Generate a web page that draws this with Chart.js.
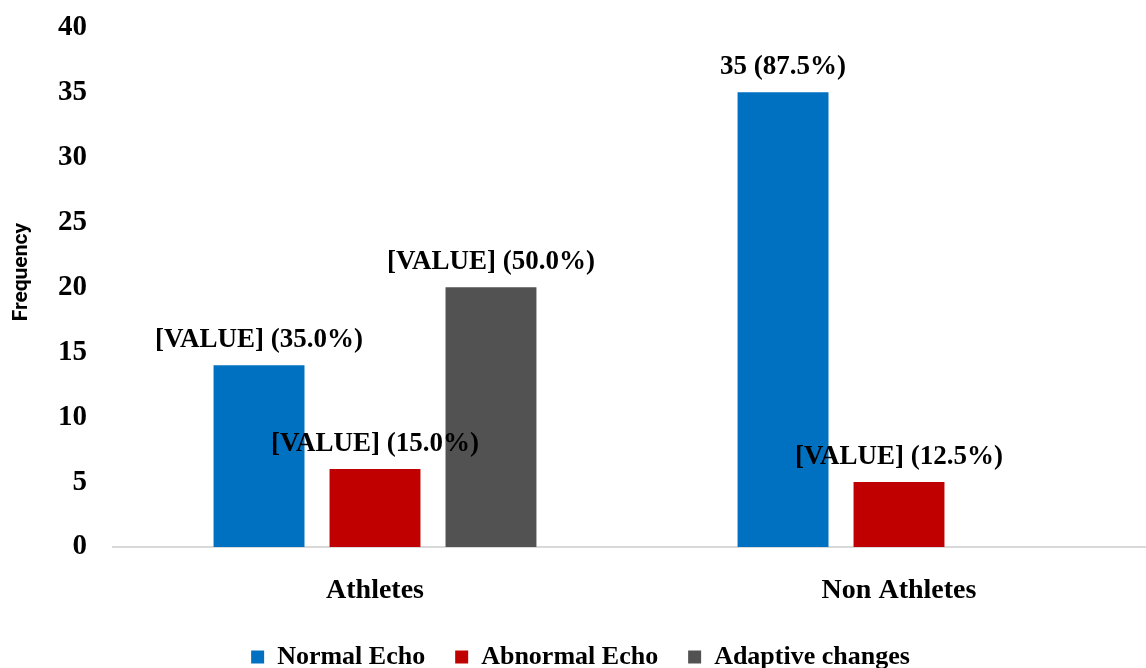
<!DOCTYPE html>
<html>
<head>
<meta charset="utf-8">
<script src="https://cdn.jsdelivr.net/npm/chart.js@4.4.0/dist/chart.umd.min.js"></script>
<style>
    html, body { margin: 0; padding: 0; background: #fff; overflow: hidden; }
    #wrap { position: relative; top: -16px; width: 1166px; height: 696px; }
</style>
</head>
<body>
<div id="wrap"><canvas id="echoChart"></canvas></div>
<script>
// chart data
const groups = ['Athletes', 'Non Athletes'];
const normalEcho = [14, 35];
const abnormalEcho = [6, 5];
const adaptiveChanges = [20, 0];

// labels shown above the bars
const normalLabels = ['[VALUE] (35.0%)', '35 (87.5%)'];
const abnormalLabels = ['[VALUE] (15.0%)', '[VALUE] (12.5%)'];
const adaptiveLabels = ['[VALUE] (50.0%)', ''];

const yTicks = [0, 5, 10, 15, 20, 25, 30, 35, 40];
const yTitle = 'Frequency';

const serif = '"Liberation Serif", "Times New Roman", serif';

// write the value labels on top of each bar
const barLabels = {
    id: 'barLabels',
    afterDatasetsDraw(chart) {
        const ctx = chart.ctx;
        ctx.save();
        ctx.font = 'bold 27px ' + serif;
        ctx.fillStyle = '#000';
        ctx.textAlign = 'center';
        ctx.textBaseline = 'middle';
        chart.data.datasets.forEach((ds, i) => {
            chart.getDatasetMeta(i).data.forEach((bar, j) => {
                const text = ds.valueLabels[j];
                if (!text || !ds.data[j]) return;
                ctx.fillText(text, bar.x, bar.y - 25);
            });
        });
        ctx.restore();
    }
};

// rotated y axis title
const yAxisTitle = {
    id: 'yAxisTitle',
    afterDraw(chart) {
        const ctx = chart.ctx;
        const area = chart.chartArea;
        ctx.save();
        ctx.translate(22, (area.top + area.bottom) / 2 - 15);
        ctx.rotate(-Math.PI / 2);
        ctx.font = 'bold 21px Roboto, "Liberation Sans", sans-serif';
        ctx.fillStyle = '#000';
        ctx.textAlign = 'center';
        ctx.textBaseline = 'middle';
        ctx.fillText(yTitle, 0, 0);
        ctx.restore();
    }
};

const data = {
    labels: groups,
    datasets: [{
        label: 'Normal Echo',
        data: normalEcho,
        valueLabels: normalLabels,
        backgroundColor: '#0070C0'
    },
    {
        label: 'Abnormal Echo',
        data: abnormalEcho,
        valueLabels: abnormalLabels,
        backgroundColor: '#C00000'
    },
    {
        label: 'Adaptive changes',
        data: adaptiveChanges,
        valueLabels: adaptiveLabels,
        backgroundColor: '#525252'
    }]
};

const config = {
    type: 'bar',
    data: data,
    plugins: [barLabels, yAxisTitle],
    options: {
        responsive: true,
        maintainAspectRatio: false,
        animation: false,
        barPercentage: 0.784,
        categoryPercentage: 0.664,
        layout: {
            padding: { top: 0, right: 5, left: 0, bottom: 0 }
        },
        scales: {
            x: {
                grid: { display: false, drawTicks: false },
                border: { display: true, color: '#d9d9d9', width: 2 },
                ticks: {
                    color: '#000',
                    padding: 27,
                    font: { family: serif, size: 28, weight: 'bold' }
                },
                afterFit: function (scale) { scale.height = 67; }
            },
            y: {
                min: 0,
                max: 40,
                grid: { display: false, drawTicks: false },
                border: { display: false },
                afterBuildTicks: function (scale) {
                    scale.ticks = yTicks.map(v => ({ value: v }));
                },
                ticks: {
                    color: '#000',
                    padding: 26,
                    font: { family: serif, size: 29, weight: 'bold' }
                },
                afterFit: function (scale) { scale.width = 113; }
            }
        },
        plugins: {
            legend: {
                position: 'bottom',
                labels: {
                    color: '#000',
                    boxWidth: 13,
                    boxHeight: 13,
                    padding: 30,
                    font: { family: serif, size: 26, weight: 'bold' }
                }
            },
            tooltip: { enabled: false }
        }
    }
};

const echoChart = new Chart(document.getElementById('echoChart'), config);
</script>
</body>
</html>
